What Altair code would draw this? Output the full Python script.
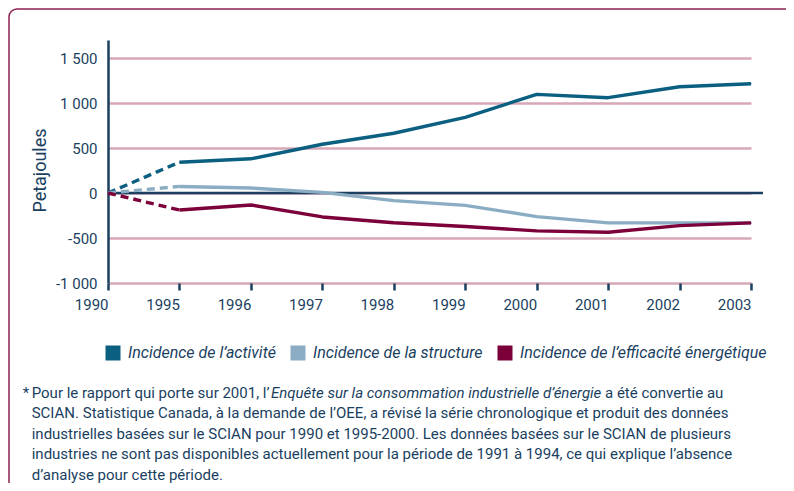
import altair as alt
import pandas as pd

# ---------------- data ----------------
years = ["1990", "1995", "1996", "1997", "1998", "1999", "2000", "2001", "2002", "2003"]
activity = [0, 342, 380, 542, 664, 841, 1096, 1059, 1180, 1214]
structure = [0, 73, 55, 7, -85, -137, -262, -332, -332, -332]
efficiency = [0, -189, -133, -266, -330, -373, -421, -436, -362, -332]

series_names = [
    "Incidence de l’activité",
    "Incidence de la structure",
    "Incidence de l’efficacité énergétique",
]
series_colors = ["#0b5f80", "#8badc4", "#7c0039"]
y_ticks = [-1000, -500, 0, 500, 1000, 1500]
y_title = "Petajoules"

footnote_mark = "*"
footnote_first = [
    "Pour le rapport qui porte sur 2001, l’",
    "Enquête sur la consommation industrielle d’énergie",
    "a été convertie au",
]
footnote_rest = [
    "SCIAN. Statistique Canada, à la demande de l’OEE, a révisé la série chronologique et produit des données",
    "industrielles basées sur le SCIAN pour 1990 et 1995-2000. Les données basées sur le SCIAN de plusieurs",
    "industries ne sont pas disponibles actuellement pour la période de 1991 à 1994, ce qui explique l’absence",
    "d’analyse pour cette période.",
]

# ---------------- styling ----------------
FONT = "Roboto"
NAVY = "#1a3f5f"
GRID = "#d6a7b6"
FRAME = "#8c2150"
W, H = 655, 243
FS = 15

rows = []
for name, vals in zip(series_names, [activity, structure, efficiency]):
    for i, (yr, v) in enumerate(zip(years, vals)):
        rows.append({"series": name, "year": yr, "value": v, "idx": i})
df = pd.DataFrame(rows)
df_dash = df[df["idx"] <= 1]
df_solid = df[df["idx"] >= 1]

xscale = alt.Scale(type="point", domain=years, padding=0, range=[0, 643])
yscale = alt.Scale(domain=[-1000, 1700], nice=False, zero=False)
stroke_scale = alt.Scale(domain=series_names, range=series_colors)

xaxis = alt.Axis(
    title=None, labelAngle=0, labelFont=FONT, labelFontSize=FS, labelColor=NAVY,
    labelPadding=14, tickSize=7, tickWidth=2.5, tickColor=NAVY, domain=False,
    grid=False, labelFlush=False,
)
yaxis = alt.Axis(
    title=y_title, values=y_ticks,
    labelExpr="replace(replace(format(datum.value, ',d'), ',', ' '), '\u2212', '-')",
    labelFont=FONT, labelFontSize=FS, labelColor=NAVY, labelPadding=11,
    ticks=False, domain=True, domainColor=NAVY, domainWidth=2.5,
    grid=True, gridColor=GRID, gridWidth=2.3,
    titleFont=FONT, titleFontSize=18, titleFontWeight="normal", titleColor=NAVY,
    titleX=-68, titleY=130, titleAngle=270, titleAlign="center", titleBaseline="middle",
)

one = pd.DataFrame({"k": [0]})

frame = alt.Chart(one).mark_rect(
    fillOpacity=0, stroke=FRAME, strokeWidth=1.5, cornerRadius=8
).encode(x=alt.value(-99), x2=alt.value(760), y=alt.value(-31), y2=alt.value(600))

zero = alt.Chart(pd.DataFrame({"value": [0]})).mark_rule(
    color=NAVY, strokeWidth=2.5
).encode(y=alt.Y("value:Q", scale=yscale), x=alt.value(0), x2=alt.value(W))

legend_pts = alt.Chart(df_solid).mark_square(size=1, filled=True, opacity=1).encode(
    x=alt.X("year:O", scale=xscale),
    y=alt.Y("value:Q", scale=yscale),
    color=alt.Color(
        "series:N", scale=stroke_scale,
        legend=alt.Legend(
            title=None, orient="none", direction="horizontal", legendX=-3, legendY=305,
            symbolType="square", symbolSize=225, symbolStrokeWidth=0,
            labelFont=FONT, labelFontSize=16, labelFontStyle="italic", labelColor=NAVY,
            labelOffset=7, columnPadding=14, labelLimit=400,
        ),
    ),
)

solid = alt.Chart(df_solid).mark_line(strokeWidth=3.4, strokeJoin="round").encode(
    x=alt.X("year:O", scale=xscale, axis=xaxis),
    y=alt.Y("value:Q", scale=yscale, axis=yaxis),
    stroke=alt.Stroke("series:N", scale=stroke_scale, legend=None),
)

dashed = alt.Chart(df_dash).mark_line(strokeWidth=3.4, strokeDash=[8, 5]).encode(
    x=alt.X("year:O", scale=xscale),
    y=alt.Y("value:Q", scale=yscale),
    stroke=alt.Stroke("series:N", scale=stroke_scale, legend=None),
)

TXT = dict(font=FONT, fontSize=FS, color=NAVY, align="left", baseline="alphabetic")

star = alt.Chart(one).mark_text(text=footnote_mark, **TXT).encode(
    x=alt.value(-85.3), y=alt.value(357.5))
f1a = alt.Chart(one).mark_text(text=footnote_first[0], **TXT).encode(
    x=alt.value(-76.3), y=alt.value(357.5))
f1b = alt.Chart(one).mark_text(text=footnote_first[1], fontStyle="italic", **TXT).encode(
    x=alt.value(163), y=alt.value(357.5))
f1c = alt.Chart(one).mark_text(text=footnote_first[2], **TXT).encode(
    x=alt.value(497), y=alt.value(357.5))
frest = alt.Chart(one).mark_text(text=footnote_rest, lineHeight=20.7, **TXT).encode(
    x=alt.value(-76.3), y=alt.value(378))

chart = alt.layer(
    frame, zero, legend_pts, dashed, solid, star, f1a, f1b, f1c, frest
).properties(
    width=W, height=H,
    autosize=alt.AutoSizeParams(type="none"),
    padding={"left": 100, "top": 32, "right": 23, "bottom": 200},
).configure_view(stroke=None)

chart.save("out.html", embed_options={"renderer": "svg", "actions": False})
